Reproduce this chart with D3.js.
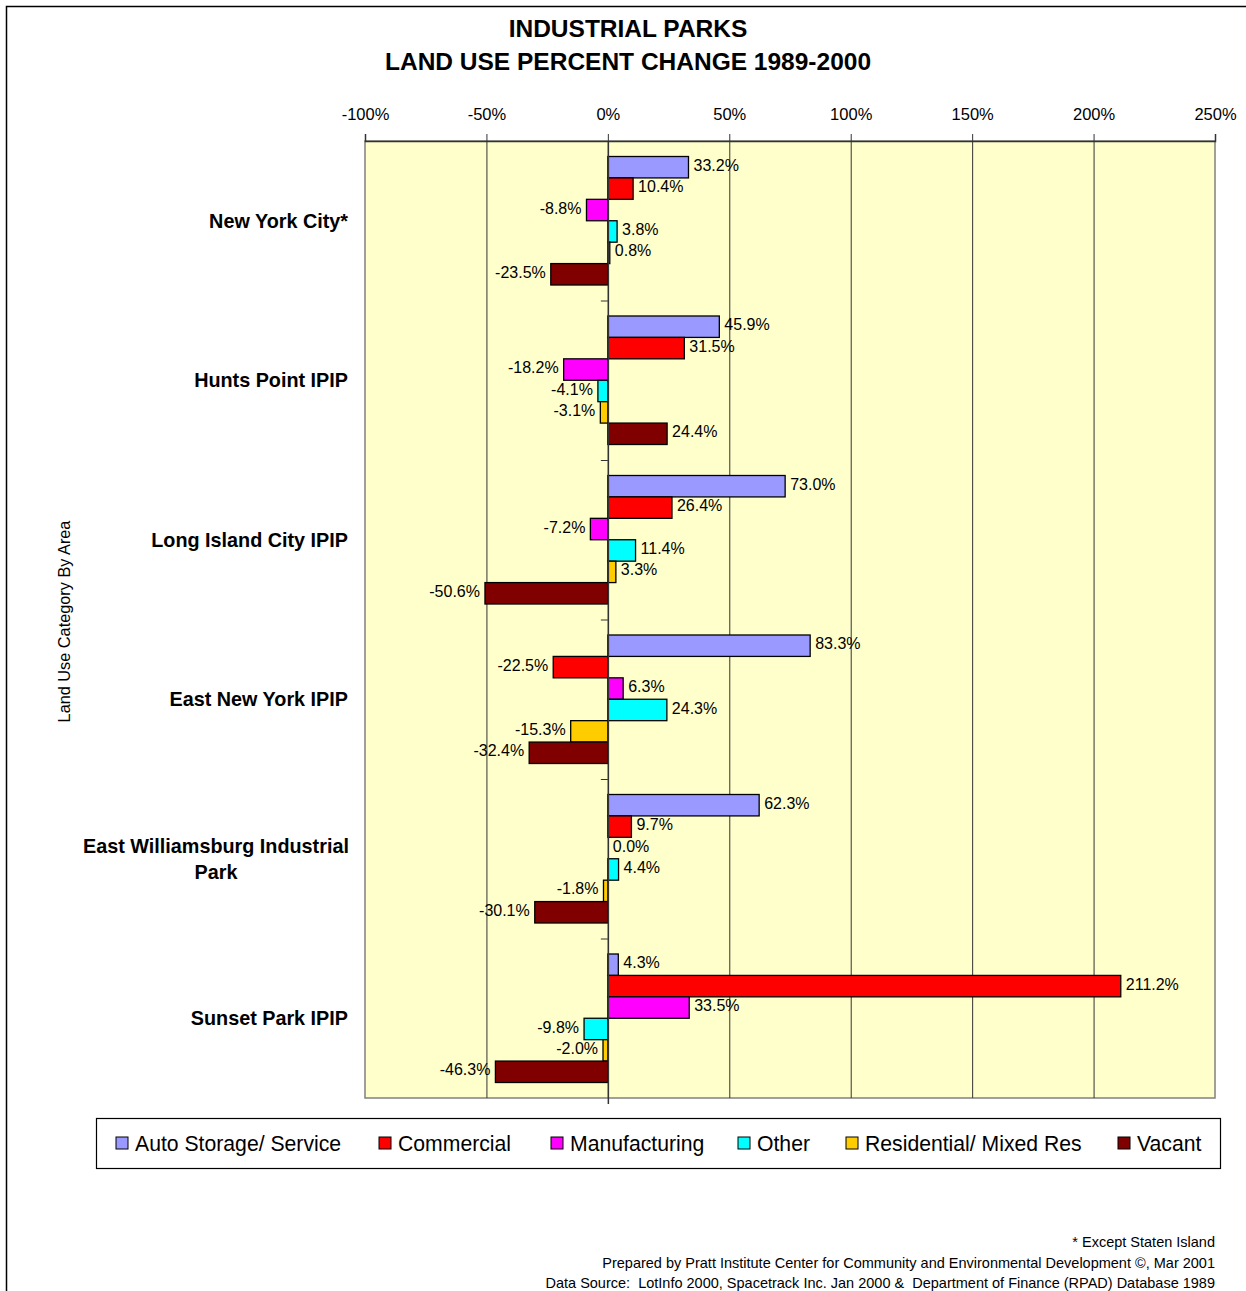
<!DOCTYPE html>
<html>
<head>
<meta charset="utf-8">
<script src="https://cdn.jsdelivr.net/npm/d3@7"></script>
<style>
  body { margin: 0; background: #fff; }
  text { font-family: Arial, "Liberation Sans", sans-serif; fill: #000; }
</style>
</head>
<body>
<div class="svg-container"></div>
<script>
// areas, top to bottom
var areas = ["New York City*", "Hunts Point IPIP", "Long Island City IPIP",
             "East New York IPIP", "East Williamsburg Industrial Park", "Sunset Park IPIP"];
var seriesNames = ["Auto Storage/ Service", "Commercial", "Manufacturing",
                   "Other", "Residential/ Mixed Res", "Vacant"];
var seriesColors = ["#9999FF", "#FF0000", "#FF00FF", "#00FFFF", "#FFCC00", "#800000"];

// percent change per series, one value per area
var autoStorage   = [33.2, 45.9, 73.0, 83.3, 62.3, 4.3];
var commercial    = [10.4, 31.5, 26.4, -22.5, 9.7, 211.2];
var manufacturing = [-8.8, -18.2, -7.2, 6.3, 0.0, 33.5];
var other         = [3.8, -4.1, 11.4, 24.3, 4.4, -9.8];
var residential   = [0.8, -3.1, 3.3, -15.3, -1.8, -2.0];
var vacant        = [-23.5, 24.4, -50.6, -32.4, -30.1, -46.3];

var xTicks = [-100, -50, 0, 50, 100, 150, 200, 250];
var footNotes = ["* Except Staten Island",
  "Prepared by Pratt Institute Center for Community and Environmental Development \u00a9, Mar 2001",
  "Data Source:  LotInfo 2000, Spacetrack Inc. Jan 2000 &  Department of Finance (RPAD) Database 1989"];

var seriesValues = [autoStorage, commercial, manufacturing, other, residential, vacant];

var w = 1246, h = 1291;
var plot = {left: 365, right: 1215, top: 141, bottom: 1098};

var svg = d3.select(".svg-container").append("svg")
    .attr("width", w)
    .attr("height", h);

// outer frame (runs off the right and bottom edges)
svg.append("rect")
    .attr("x", 6.5).attr("y", 6.5)
    .attr("width", w + 20).attr("height", h + 20)
    .attr("fill", "none").attr("stroke", "#000").attr("stroke-width", 1.5);

// title
svg.append("text").attr("x", 628).attr("y", 37)
    .attr("text-anchor", "middle").attr("font-size", 24.5).attr("font-weight", "bold")
    .text("INDUSTRIAL PARKS");
svg.append("text").attr("x", 628).attr("y", 70)
    .attr("text-anchor", "middle").attr("font-size", 24.5).attr("font-weight", "bold")
    .text("LAND USE PERCENT CHANGE 1989-2000");

var x = d3.scaleLinear().domain([-100, 250]).range([plot.left, plot.right]);
var y0 = d3.scaleBand().domain(areas).range([plot.top, plot.bottom]).padding(0);
var y1 = d3.scaleBand().domain(seriesNames)
    .range([15.5, y0.bandwidth() - 15.5]).padding(0);

// plot background
svg.append("rect")
    .attr("x", plot.left).attr("y", plot.top)
    .attr("width", plot.right - plot.left).attr("height", plot.bottom - plot.top)
    .attr("fill", "#FFFFCC").attr("stroke", "#808080").attr("stroke-width", 1.5);

// vertical gridlines
svg.append("g").selectAll("line")
    .data(xTicks.filter(function(d) { return d > -100 && d < 250; }))
    .enter().append("line")
    .attr("x1", function(d) { return x(d) + 0.5; })
    .attr("x2", function(d) { return x(d) + 0.5; })
    .attr("y1", plot.top).attr("y2", plot.bottom)
    .attr("stroke", "#333").attr("stroke-width", 1);

// top axis
var xAxis = d3.axisTop(x).tickValues(xTicks).tickSize(7).tickPadding(14)
    .tickFormat(function(d) { return d + "%"; });
var gx = svg.append("g").attr("transform", "translate(0," + plot.top + ")").call(xAxis);
gx.select(".domain").attr("stroke", "#333").attr("stroke-width", 1.5);
gx.selectAll(".tick line").attr("stroke", "#333");
gx.selectAll(".tick text").attr("font-size", 16.5).attr("font-family", "Arial, 'Liberation Sans', sans-serif");

// category ticks on the zero line
svg.append("g").selectAll("line")
    .data(areas.slice(1))
    .enter().append("line")
    .attr("x1", x(0) - 7).attr("x2", x(0))
    .attr("y1", function(d) { return y0(d) + 0.5; })
    .attr("y2", function(d) { return y0(d) + 0.5; })
    .attr("stroke", "#333");

// bars
var rows = [];
areas.forEach(function(a, i) {
    seriesNames.forEach(function(s, j) {
        rows.push({area: a, series: s, value: seriesValues[j][i], color: seriesColors[j]});
    });
});

var bars = svg.append("g").selectAll("g")
    .data(rows).enter().append("g");

bars.append("rect")
    .attr("x", function(d) { return x(Math.min(0, d.value)); })
    .attr("y", function(d) { return y0(d.area) + y1(d.series); })
    .attr("width", function(d) { return Math.abs(x(d.value) - x(0)); })
    .attr("height", y1.bandwidth())
    .attr("fill", function(d) { return d.color; })
    .attr("stroke", "#000").attr("stroke-width", 1.3);

bars.append("text")
    .attr("x", function(d) { return d.value < 0 ? x(d.value) - 5 : x(d.value) + 5; })
    .attr("y", function(d) { return y0(d.area) + y1(d.series) + y1.bandwidth() / 2 - 2; })
    .attr("dy", "0.35em")
    .attr("text-anchor", function(d) { return d.value < 0 ? "end" : "start"; })
    .attr("font-size", 16)
    .text(function(d) { return d.value.toFixed(1) + "%"; });

// zero line on top
svg.append("line")
    .attr("x1", x(0) + 0.5).attr("x2", x(0) + 0.5)
    .attr("y1", plot.top).attr("y2", plot.bottom + 6)
    .attr("stroke", "#333").attr("stroke-width", 1.5);

// category labels
var catLabels = svg.append("g").selectAll("text")
    .data(areas).enter().append("text")
    .attr("font-size", 19.8).attr("font-weight", "bold")
    .attr("text-anchor", "middle");

catLabels.each(function(d) {
    var t = d3.select(this);
    var cy = y0(d) + y0.bandwidth() / 2;
    if (d === "East Williamsburg Industrial Park") {
        t.append("tspan").attr("x", 216).attr("y", cy - 13).attr("dy", "0.35em").text("East Williamsburg Industrial");
        t.append("tspan").attr("x", 216).attr("y", cy + 13).attr("dy", "0.35em").text("Park");
    } else {
        t.attr("text-anchor", "end").attr("x", 348).attr("y", cy).attr("dy", "0.35em").text(d);
    }
});

// y axis title
svg.append("text")
    .attr("transform", "translate(70," + ((plot.top + plot.bottom) / 2 + 2) + ") rotate(-90)")
    .attr("text-anchor", "middle").attr("font-size", 16.3)
    .text("Land Use Category By Area");

// legend
var legend = svg.append("g");
legend.append("rect")
    .attr("x", 96.5).attr("y", 1118.5).attr("width", 1124).attr("height", 50)
    .attr("fill", "#fff").attr("stroke", "#000").attr("stroke-width", 1.2);

var legendX = [116, 379, 551, 738, 846, 1118];
var li = legend.selectAll("g.item")
    .data(seriesNames).enter().append("g")
    .attr("class", "item")
    .attr("transform", function(d, i) { return "translate(" + legendX[i] + ",1137)"; });
li.append("rect")
    .attr("width", 12).attr("height", 12)
    .attr("fill", function(d, i) { return seriesColors[i]; })
    .attr("stroke", "#000").attr("stroke-width", 1);
li.append("text")
    .attr("x", 19).attr("y", 6).attr("dy", "0.36em")
    .attr("font-size", 21.2)
    .text(function(d) { return d; });

// footnotes
svg.append("g").selectAll("text")
    .data(footNotes).enter().append("text")
    .attr("x", 1215)
    .attr("y", function(d, i) { return 1247 + i * 20.5; })
    .attr("text-anchor", "end").attr("font-size", 14.5)
    .style("white-space", "pre")
    .text(function(d) { return d; });
</script>
</body>
</html>
